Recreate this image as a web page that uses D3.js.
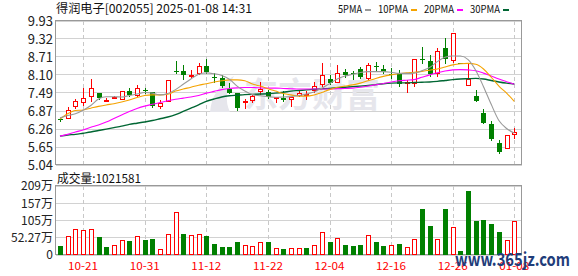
<!DOCTYPE html>
<html>
<head>
<meta charset="utf-8">
<script src="https://cdnjs.cloudflare.com/ajax/libs/d3/7.8.5/d3.min.js"></script>
<style>
  body { margin: 0; background: #fff; }
  svg text { font-family: "Noto Sans CJK SC", "DejaVu Sans", sans-serif; }
</style>
</head>
<body>
<div id="chart"></div>
<script>
// daily candles, 2024-10-16 .. 2025-01-08 (60 trading days)
var open  = [6.60,6.60,7.02,7.16,7.36,7.49,7.23,7.32,7.24,7.55, 7.39,7.60,7.52,7.00,7.19,8.24,8.23,8.06,8.14,8.39,
             8.03,7.99,7.62,7.50,7.14,7.20,7.53,7.52,7.33,7.31, 7.24,7.39,7.41,7.55,7.74,7.97,7.83,8.20,8.16,8.30,
             7.97,8.40,8.29,8.14,8.17,7.83,7.78,8.64,8.56,8.12, 9.01,8.58,8.52,7.71,7.38,6.81,6.43,5.80,5.57,6.07];
var high  = [6.64,7.00,7.28,7.64,7.95,7.49,7.30,7.38,7.56,7.64, 7.76,7.66,7.52,7.24,7.92,8.57,8.45,8.26,8.49,8.63,
             8.15,8.10,7.81,7.50,7.29,7.46,7.86,7.59,7.35,7.55, 7.36,7.54,7.56,7.86,8.50,8.09,8.45,8.29,8.22,8.38,
             8.51,8.54,8.44,8.32,8.27,7.92,8.63,9.04,8.78,9.00, 9.36,9.51,8.52,8.48,7.59,6.94,6.53,5.88,6.05,6.30];
var low   = [6.55,6.60,6.95,7.04,7.19,7.28,7.17,7.29,7.24,7.37, 7.35,7.48,7.00,6.94,7.19,8.15,7.97,7.99,8.09,8.17,
             7.85,7.70,7.47,6.91,6.93,7.16,7.42,7.33,7.14,7.22, 7.02,7.35,7.25,7.47,7.68,7.79,7.81,8.04,7.96,8.00,
             7.93,8.24,8.15,7.99,7.73,7.50,7.70,8.51,8.06,8.02, 8.49,8.51,8.51,7.71,7.22,6.48,5.88,5.46,5.57,5.93];
var close = [6.58,6.91,7.21,7.31,7.64,7.33,7.25,7.34,7.54,7.42, 7.66,7.58,7.03,7.16,7.92,8.22,8.11,8.10,8.39,8.20,
             8.01,7.73,7.50,6.97,7.21,7.38,7.61,7.34,7.35,7.24, 7.35,7.47,7.44,7.73,8.09,7.83,8.18,8.11,8.14,8.04,
             8.43,8.38,8.19,8.12,7.78,7.87,8.63,8.62,8.12,8.90, 8.65,9.51,8.51,7.97,7.22,6.48,5.91,5.49,6.05,6.15];

// volume in 万 shares, 1 = red (up day), 0 = green
var volume = [28,58,79,76,79,55,25,31,46,43, 58,46,49,19,64,131,64,61,64,58,
              34,25,25,40,31,28,40,40,22,19, 22,22,22,30,70,40,51,30,28,30,
              60,40,28,30,34,24,49,140,89,49, 140,85,13,195,102,107,95,71,46,102.16];
var volUp  = [0,1,1,1,1,0,0,1,1,0, 1,0,0,1,1,1,0,1,1,0,
              0,0,0,0,1,1,1,0,1,0, 1,1,0,1,1,0,1,0,0,0,
              1,0,0,1,0,1,1,0,0,1, 0,1,0,0,0,0,0,0,1,1];

// moving averages as drawn
var ma5  = [6.64,6.72,6.78,6.90,7.06,7.28,7.36,7.36,7.35,7.40, 7.45,7.50,7.48,7.42,7.47,7.60,7.78,7.96,8.12,8.17,
            8.14,8.08,7.95,7.72,7.55,7.43,7.39,7.36,7.34,7.35, 7.36,7.40,7.45,7.52,7.65,7.80,7.96,8.06,8.12,8.18,
            8.21,8.21,8.21,8.19,8.15,8.15,8.16,8.24,8.35,8.55, 8.70,8.74,8.74,8.62,8.25,7.70,7.10,6.55,6.28,6.12];
var ma10 = [6.60,6.78,6.89,6.91,6.97,7.03,7.08,7.12,7.18,7.25, 7.33,7.40,7.42,7.42,7.44,7.55,7.62,7.68,7.75,7.80,
            7.86,7.90,7.93,7.93,7.90,7.79,7.72,7.63,7.55,7.47, 7.42,7.38,7.38,7.42,7.50,7.60,7.68,7.72,7.76,7.82,
            7.90,7.98,8.05,8.10,8.14,8.17,8.19,8.22,8.26,8.30, 8.37,8.44,8.48,8.49,8.46,8.30,8.02,7.72,7.48,7.20];
var ma20 = [6.02,6.08,6.16,6.23,6.32,6.40,6.50,6.62,6.74,6.86, 6.96,7.04,7.10,7.16,7.22,7.27,7.31,7.35,7.40,7.48,
            7.54,7.60,7.64,7.66,7.67,7.67,7.66,7.65,7.65,7.64, 7.63,7.62,7.62,7.62,7.62,7.62,7.63,7.64,7.65,7.68,
            7.72,7.76,7.81,7.86,7.90,7.92,7.94,8.02,8.10,8.17, 8.23,8.27,8.28,8.27,8.24,8.16,8.06,7.96,7.87,7.78];
var ma30 = [6.02,6.06,6.08,6.12,6.16,6.21,6.26,6.31,6.36,6.42, 6.46,6.50,6.55,6.61,6.67,6.75,6.86,6.97,7.08,7.20,
            7.28,7.35,7.39,7.41,7.43,7.44,7.45,7.46,7.48,7.51, 7.55,7.57,7.59,7.61,7.63,7.64,7.66,7.68,7.70,7.72,
            7.74,7.77,7.80,7.82,7.83,7.83,7.84,7.85,7.86,7.88, 7.91,7.94,7.96,7.97,7.98,7.96,7.91,7.86,7.82,7.79];

var tickIndex  = [3, 11, 19, 27, 35, 43, 51, 59];
var tickLabels = ["10-21","10-31","11-12","11-22","12-04","12-16","12-26","01-08"];
var priceTicks = [5.04, 5.65, 6.26, 6.87, 7.49, 8.10, 8.71, 9.32, 9.93];
var volTicks      = [0, 52.27, 104.54, 156.81, 209.08];
var volTickLabels = ["0", "52.27万", "105万", "157万", "209万"];
var maNames  = ["5PMA", "10PMA", "20PMA", "30PMA"];
var maColors = ["#999999", "#f5a300", "#ff00ff", "#006633"];
var title    = "得润电子[002055] 2025-01-08 14:31";
var volTitle = "成交量:1021581";

var width = 578, height = 276;
var left = 56, right = 522;
var pTop = 21, pBottom = 165, vTop = 186, vBottom = 255;
var red = "#ff0000", green = "#008000";

var svg = d3.select("#chart").append("svg")
    .attr("width", width)
    .attr("height", height);

var x = d3.scaleLinear().domain([0, 59]).range([60, 514.3]);
var y = d3.scaleLinear().domain([5.04, 9.93]).range([pBottom, pTop]);
var yv = d3.scaleLinear().domain([0, 209.08]).range([vBottom, vTop]);

// simsun-like widths: 12px for CJK, 6px for ascii
function textLen(s) {
  var n = 0;
  for (var c of s) n += c.charCodeAt(0) > 255 ? 12 : 6;
  return n;
}
function px(v) { return Math.round(v) + 0.5; }

// horizontal grid
function hgrid(scale, ticks) {
  svg.append("g").selectAll("line")
    .data(ticks).enter().append("line")
      .attr("x1", left).attr("x2", right)
      .attr("y1", function(d) { return px(scale(d) - 0.5); })
      .attr("y2", function(d) { return px(scale(d) - 0.5); })
      .attr("stroke", "#d2d2d2");
}
hgrid(y, priceTicks);
hgrid(yv, volTicks);

// vertical dashed grid
[[pTop, pBottom], [vTop, vBottom]].forEach(function(r) {
  svg.append("g").selectAll("line")
    .data(tickIndex).enter().append("line")
      .attr("x1", function(d) { return px(x(d)); })
      .attr("x2", function(d) { return px(x(d)); })
      .attr("y1", r[0]).attr("y2", r[1])
      .attr("stroke", "#c8c8c8")
      .attr("stroke-dasharray", "4,3");
});

// frames
[[pTop, pBottom], [vTop, vBottom]].forEach(function(r) {
  svg.append("rect")
    .attr("x", left - 0.5).attr("y", r[0] - 0.5)
    .attr("width", right - left).attr("height", r[1] - r[0])
    .attr("fill", "none")
    .attr("stroke", "#999");
});

// watermark
svg.append("path")
  .attr("d", "M210,112 Q212,88 234,76 Q222,96 230,112 Z")
  .attr("fill", "#e6e6ec");
svg.append("text")
  .attr("x", 244).attr("y", 107)
  .attr("font-size", 34)
  .attr("font-weight", "bold")
  .attr("fill", "#e6e6ec")
  .text("东方财富");

// axis labels
var py = svg.append("g")
    .attr("transform", "translate(" + left + ",0)")
    .call(d3.axisLeft(y).tickValues(priceTicks).tickSize(0).tickPadding(3)
      .tickFormat(d3.format(".2f")));
py.select(".domain").remove();
py.selectAll("text").attr("font-family", "'Liberation Sans', Arial, sans-serif")
  .attr("font-size", 13).attr("fill", "#222");

var vy = svg.append("g")
    .attr("transform", "translate(" + left + ",0)")
    .call(d3.axisLeft(yv).tickValues(volTicks).tickSize(0).tickPadding(3)
      .tickFormat(function(d, i) { return volTickLabels[i]; }));
vy.select(".domain").remove();
vy.selectAll("text").attr("font-family", "'Liberation Sans', Arial, sans-serif")
  .attr("font-size", 12).attr("fill", "#222");

svg.append("g").selectAll("text")
  .data(tickIndex).enter().append("text")
    .attr("x", function(d) { return x(d) - 15; })
    .attr("y", 270)
    .attr("font-size", 11)
    .attr("fill", red)
    .attr("textLength", 30)
    .attr("lengthAdjust", "spacingAndGlyphs")
    .text(function(d, i) { return tickLabels[i]; });

// titles
svg.append("text")
  .attr("x", 56).attr("y", 13)
  .attr("font-size", 12).attr("fill", "#111")
  .attr("textLength", textLen(title) - 2)
  .attr("lengthAdjust", "spacingAndGlyphs")
  .text(title);

svg.append("text")
  .attr("x", 57).attr("y", 183)
  .attr("font-size", 12).attr("fill", "#111")
  .attr("textLength", textLen(volTitle))
  .attr("lengthAdjust", "spacingAndGlyphs")
  .text(volTitle);

// legend
var lx = 338;
maNames.forEach(function(name, i) {
  var w = textLen(name);
  svg.append("text")
    .attr("x", lx).attr("y", 13)
    .attr("font-size", 11).attr("fill", "#111")
    .attr("textLength", w)
    .attr("lengthAdjust", "spacingAndGlyphs")
    .text(name);
  lx += w + 3;
  svg.append("rect")
    .attr("x", lx).attr("y", 9)
    .attr("width", 6).attr("height", 2)
    .attr("fill", maColors[i]);
  lx += 6 + 7;
});

// candles
var idx = d3.range(open.length);
var candles = svg.append("g").selectAll("g")
  .data(idx).enter().append("g");

candles.each(function(i) {
  var g = d3.select(this);
  var cx = px(x(i));
  var up = close[i] > open[i] || (close[i] == open[i] && i > 0 && close[i] >= close[i - 1] && false);
  var col = up ? red : green;
  var top = Math.round(y(Math.max(open[i], close[i])));
  var bot = Math.round(y(Math.min(open[i], close[i])));
  var hi = Math.round(y(high[i])), lo = Math.round(y(low[i]));
  if (up) {
    if (hi < top) g.append("line").attr("x1", cx).attr("x2", cx).attr("y1", hi).attr("y2", top).attr("stroke", col);
    if (lo > bot) g.append("line").attr("x1", cx).attr("x2", cx).attr("y1", bot).attr("y2", lo).attr("stroke", col);
    g.append("rect")
      .attr("x", cx - 2).attr("y", top + 0.5)
      .attr("width", 4).attr("height", Math.max(1, bot - top - 1))
      .attr("fill", "#fff").attr("stroke", col);
  } else {
    g.append("line").attr("x1", cx).attr("x2", cx).attr("y1", hi).attr("y2", lo + 1).attr("stroke", col);
    g.append("rect")
      .attr("x", cx - 2.5).attr("y", top)
      .attr("width", 5).attr("height", Math.max(1, bot - top))
      .attr("fill", col);
  }
});

// volume bars
svg.append("g").selectAll("rect")
  .data(idx).enter().append("rect")
    .attr("x", function(i) { return volUp[i] ? px(x(i)) - 2 : px(x(i)) - 2.5; })
    .attr("y", function(i) { return volUp[i] ? Math.round(yv(volume[i])) + 0.5 : Math.round(yv(volume[i])); })
    .attr("width", function(i) { return volUp[i] ? 4 : 5; })
    .attr("height", function(i) {
      var h = vBottom - Math.round(yv(volume[i]));
      return volUp[i] ? h - 1 : h;
    })
    .attr("fill", function(i) { return volUp[i] ? "#fff" : green; })
    .attr("stroke", function(i) { return volUp[i] ? red : "none"; });

// moving average lines
var line = d3.line()
  .x(function(d, i) { return x(i); })
  .y(function(d) { return y(d); })
  .curve(d3.curveMonotoneX);

[ma30, ma20, ma10, ma5].forEach(function(series, k) {
  svg.append("path")
    .datum(series)
    .attr("d", line)
    .attr("fill", "none")
    .attr("stroke", maColors[3 - k])
    .attr("stroke-width", k == 0 ? 1.4 : 1.1);
});

// site stamp
svg.append("text")
  .attr("x", 455).attr("y", 266)
  .attr("font-family", "'Liberation Serif', 'DejaVu Serif', serif")
  .attr("font-size", 18)
  .attr("font-weight", "bold")
  .attr("fill", "#1f3d7a")
  .attr("textLength", 115)
  .attr("lengthAdjust", "spacingAndGlyphs")
  .text("www.365jz.com");
</script>
</body>
</html>
